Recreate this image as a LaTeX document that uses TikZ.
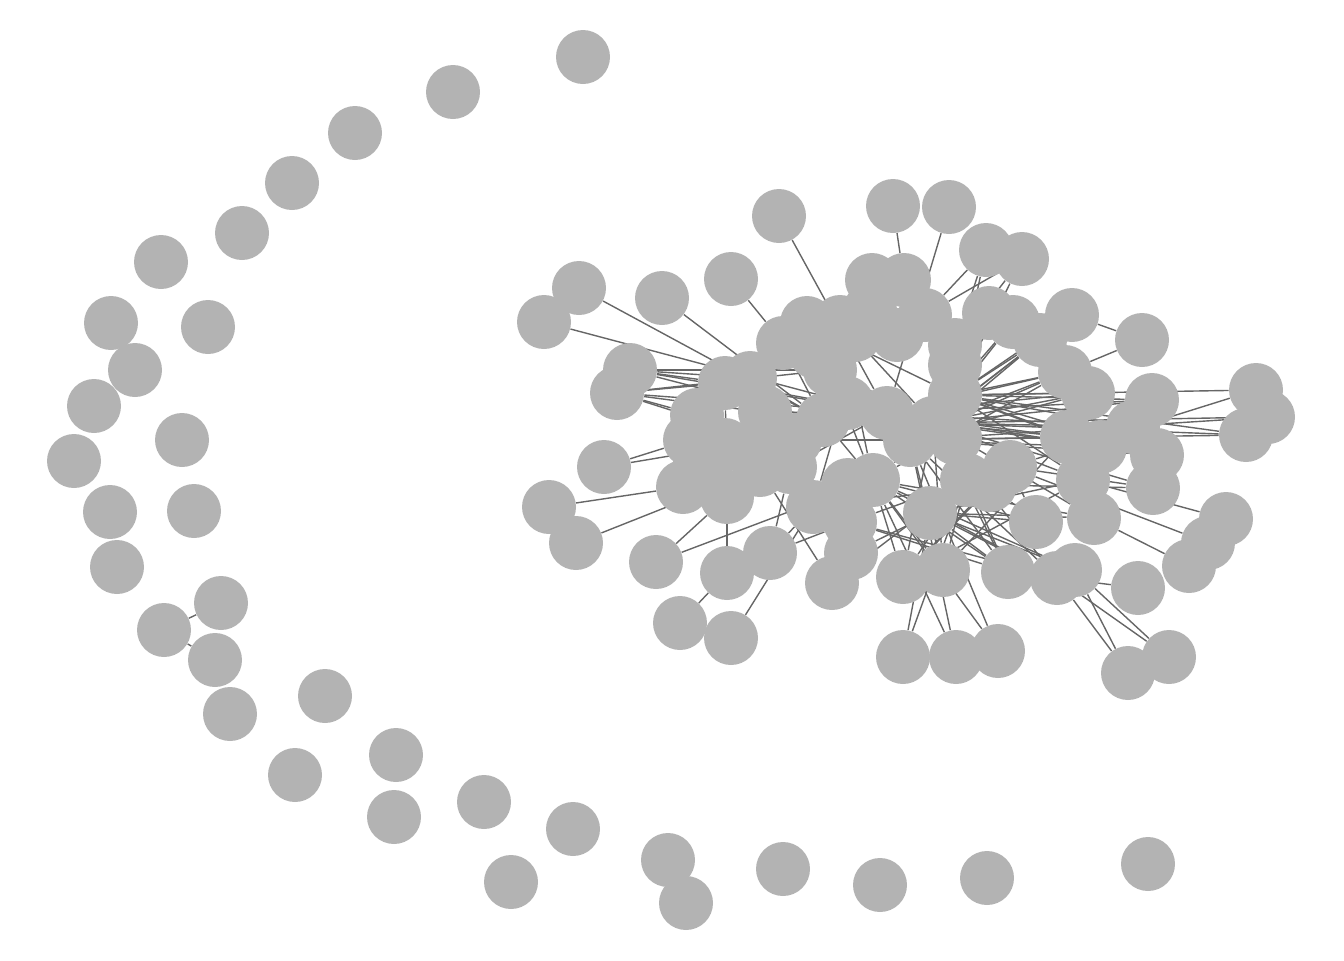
\documentclass[tikz,border=0pt]{standalone}
\usetikzlibrary{backgrounds}
\definecolor{vxgray}{HTML}{B3B3B3}
\definecolor{edgray}{HTML}{666666}
\tikzset{
  vertex/.style = {circle, fill=vxgray, draw=none, inner sep=0pt,
                   minimum size=27pt},
  link/.style   = {draw=edgray, line width=0.7pt},
}

\begin{document}
\begin{tikzpicture}[x=0.5pt, y=-0.5pt]
  \useasboundingbox (0,0) rectangle (1344,960);

  % ---- isolated ring on the left ---------------------------------------
  \foreach \name/\x/\y in {
      iso1/583/57, iso2/453/92, iso3/355/133, iso4/292/183, iso5/242/233,
      iso6/161/262, iso7/111/323, iso8/208/327, iso9/135/370, iso10/94/406,
      iso11/182/440, iso12/74/461, iso13/110/512, iso14/194/511,
      iso15/117/567, iso16/221/603, iso17/164/630, iso18/215/660,
      iso19/230/714, iso20/325/696, iso21/295/775, iso22/396/755,
      iso23/394/817, iso24/484/802, iso25/573/829, iso26/511/882,
      iso27/668/860, iso28/686/903, iso29/783/869, iso30/880/885,
      iso31/987/878, iso32/1148/864}
    \node[vertex] (\name) at (\x,\y) {};

  % ---- outer members of the big component -------------------------------
  \foreach \name/\x/\y in {
      t1/779/216, t2/893/206, t3/949/207, t4/986/250, t5/1022/259,
      t6/731/279, t7/662/298, t8/579/288, t9/544/322,
      l1/630/370, l2/617/393, l3/604/467, l4/549/507, l5/576/543,
      l6/656/562, l7/680/623, l8/731/638, l9/727/573, l10/770/553,
      u1/832/583, u2/851/553, u3/903/577, u4/943/570, u5/903/657,
      u6/956/657, u7/998/651, u8/1008/572, u9/1036/522, u10/1057/578,
      u11/1075/570, u12/1138/588, u13/1128/673, u14/1169/657,
      r1/1189/566, r2/1208/543, r3/1226/519, r4/1153/488, r5/1157/455,
      r6/1133/427, r7/1152/400, r8/1256/390, r9/1268/417, r10/1246/435,
      r11/1142/340, r12/1072/315, r13/1094/518, r14/1083/480,
      r15/1067/437, r16/1100/447, r17/1088/393, r18/1065/372}
    \node[vertex] (\name) at (\x,\y) {};

  % ---- dense core -------------------------------------------------------
  \foreach \name/\x/\y in {
      a1/783/343, a2/807/323, a3/840/322, a4/870/310, a5/872/280,
      a6/904/280, a7/925/315, a8/955/345, a9/989/313, a10/1013/322,
      a11/1040/340, a12/855/335, a13/897/335, a14/955/365, a15/815/352,
      b1/725/383, b2/750/378, b3/697/415, b4/690/440, b5/700/462,
      b6/683/487, b7/727/497, b8/765/440, b9/760/470, b10/765/412,
      b11/725/445,
      c1/830/370, c2/823/420, c3/790/467, c4/813/507, c5/850/522,
      c6/873/480, c7/887/413, c8/933/423, c9/955/395, c10/1010/467,
      c11/967/480, c12/990/485, c13/930/513, c14/910/440, c15/848/485,
      c16/795/440, c17/955/438, c18/847/403}
    \node[vertex] (\name) at (\x,\y) {};

  % ---- edges ------------------------------------------------------------
  \begin{scope}[on background layer]
    \draw[link] (iso17) -- (iso16);
    \draw[link] (iso17) -- (iso18);
    \foreach \a/\b in {
        t1/c7, t2/a6, t3/c7, t4/a7, t4/a8, t4/c9, t5/a8, t5/c9, t5/a7,
        t6/a1, t7/c2, t8/c2, t9/c7, l1/b1, l1/c2, l1/c7, l1/b2, l1/c1,
        l2/b3, l2/c1, l2/b8, l2/c2, l2/b1, l2/c7, l3/b4, l3/b8, l4/b6,
        l5/b9, l6/b7, l6/c6, l9/b7, l7/l9, l8/c4, l10/c5, l10/c4,
        c3/l10, c3/u2, b9/u1, u1/c5, u1/c11, u2/c6, u2/c12, u3/c6,
        u3/c8, u3/c11, u3/c12, u3/c10, u3/r14, u4/c13, u4/c11, u4/c14,
        u4/c8, u4/c6, u4/r15, u5/c13, u5/c11, u6/c14, u6/c6, u7/c14,
        u7/c6, u8/c11, u8/c13, u8/c6, u8/c14, u8/c5, u8/c8, u9/c10,
        u9/c12, u9/c6, u9/c13, u10/c8, u10/c14, u10/c6, u10/c13,
        u10/c5, u11/c6, u11/c13, u12/u10, u13/u10, u13/u11, u14/u11,
        u14/u10, r1/r13, r2/c10, r3/r14, r4/c10, r4/c12, r4/c8, r7/c9,
        r6/c8, r8/c10, r8/c9, r9/c8, r10/c9, r10/c8, r10/c14, r9/c14,
        r11/r12, r11/r18, r12/a10, r12/a11, r12/c9,
        r18/c7, r18/c8, r18/c9, r18/c14, r18/c6, r17/c8, r17/c9,
        r17/c7, r17/c14, r15/c7, r15/c8, r15/c9, r15/c14, r16/c9,
        r16/c7, r16/c8, r16/c14, r13/c6, r13/c13, r13/c8, r14/c13,
        r14/c9, r14/c8, r5/c14, r5/c9, r7/c7, r7/c8, r6/c9, r6/c7,
        a11/c8, a11/c14, a11/c9, a11/c6, a10/c8, a10/c14, a9/c14,
        c11/c5, c4/c12, b2/c2, a1/c2, b1/c7, a3/c8, a4/c2, c1/c8,
        a2/c9, a5/c2, c1/c6, a3/c6, c7/c3, c2/c6, a4/c4, b8/c7,
        b8/c14, b1/b7, b10/c7, b11/c2}
      \draw[link] (\a) -- (\b);
  \end{scope}
\end{tikzpicture}
\end{document}
